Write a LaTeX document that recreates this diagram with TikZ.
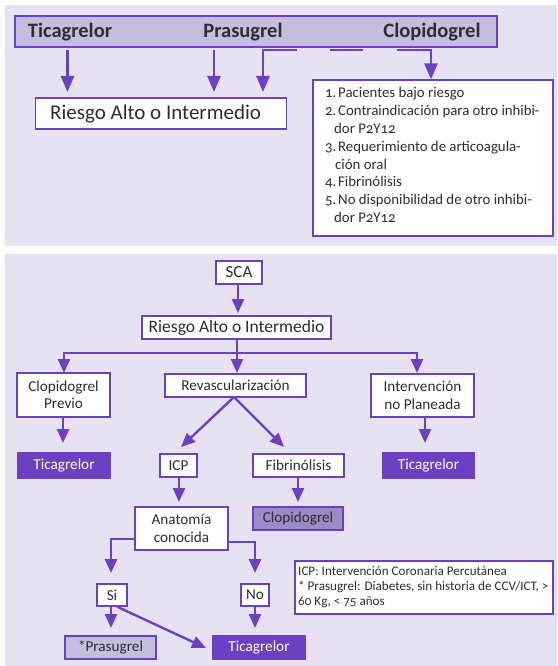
\documentclass[tikz,border=0pt]{standalone}
\usepackage{fontspec}
\setmainfont[Numbers=OldStyle]{Carlito}
\usetikzlibrary{arrows.meta,calc}
\definecolor{bgc}{HTML}{E6E2F1}
\definecolor{pc}{HTML}{6B40C2}
\definecolor{barc}{HTML}{C4BDDE}
\definecolor{midc}{HTML}{9A8BC8}
\definecolor{txt}{HTML}{2E2E2E}
\tikzset{
  box/.style={draw=pc, fill=white, line width=1.3pt, inner sep=0pt, text=txt, align=center, font=\fontsize{15.2}{17.5}\selectfont},
  darkbox/.style={box, fill=pc, text=white},
  midbox/.style={box, fill=midc},
  lightbox/.style={box, fill=barc},
  arr/.style={draw=pc, line width=2.4pt, -{Triangle[width=12pt,length=14pt]}},
  bigarr/.style={draw=pc, line width=2.6pt, -{Triangle[width=13pt,length=16pt]}},
  ln/.style={draw=pc, line width=2.4pt},
  bartext/.style={inner sep=0pt, text=txt, font=\fontsize{20.5}{24}\bfseries\selectfont},
}
\begin{document}
\begin{tikzpicture}[x=1pt,y=-1pt]
\useasboundingbox (0,0) rectangle (557,666);
% panels
\fill[bgc] (5,5) rectangle (557,246);
\fill[bgc] (5,254) rectangle (557,666);

% ---------- panel 1 ----------
\node[lightbox, minimum width=482pt, minimum height=31pt] (bar) at (256,31.5) {};
\node[bartext] (t1) at (70,32.5) {Ticagrelor};
\node[bartext] (t2) at (243,32.5) {Prasugrel};
\node[bartext] (t3) at (432,32.5) {Clopidogrel};

\node[box, minimum width=251pt, minimum height=31pt] (r1) at (161,113.5) {};
\node[inner sep=0pt, anchor=west, text=txt, font=\fontsize{21}{24}\selectfont] (r1t) at (50,114) {Riesgo Alto o Intermedio};

\node[box, minimum width=240pt, minimum height=156pt] (list) at (433,158) {};
\node[inner sep=0pt, anchor=north west, align=left, text=txt, font=\fontsize{14.8}{17.9}\selectfont] (listtxt) at (325,87)
{\makebox[13pt][l]{1.}Pacientes bajo riesgo\\
 \makebox[13pt][l]{2.}Contraindicación para otro inhibi-\\
 \hspace*{9pt}dor P2Y12\\
 \makebox[13pt][l]{3.}Requerimiento de articoagula-\\
 \hspace*{10pt}ción oral\\
 \makebox[13pt][l]{4.}Fibrinólisis\\
 \makebox[13pt][l]{5.}No disponibilidad de otro inhibi-\\
 \hspace*{9pt}dor P2Y12};

\coordinate (a1) at (67.5,50);
\coordinate (a2) at (214,50);
\coordinate (a3) at (263,50);
\draw[bigarr] (a1) -- (a1 |- 0,92);
\draw[bigarr] (a2) -- (a2 |- 0,92);
\draw[bigarr] (297,50) -- (a3) -- (a3 |- 0,92);
\draw[ln] (330,50) -- (363,50);
\draw[bigarr] (397,50) -- (431,50) -- (list.north -| 431,0);

% ---------- panel 2 ----------
\node[box, minimum width=46pt, minimum height=23pt, font=\fontsize{17}{20}\selectfont] (sca) at (239,272.5) {SCA};
\node[box, minimum width=189pt, minimum height=23pt, font=\fontsize{17.5}{20}\selectfont] (r2) at (236.5,327.5) {Riesgo Alto o Intermedio};
\draw[arr] (sca.south -| 238,0) -- (238,313);

\node[box, minimum width=93pt, minimum height=44pt] (cp) at (63.5,395) {Clopidogrel\\Previo};
\node[box, minimum width=141pt, minimum height=23pt] (rev) at (235.5,385.5) {Revascularización};
\node[box, minimum width=103pt, minimum height=43pt] (inp) at (422.5,395.5) {Intervención\\no Planeada};

\coordinate (j) at (237,353);
\draw[ln] (r2.south -| j) -- (j);
\draw[arr] (j) -- (64,353) -- (64,373);
\draw[arr] (j) -- (417,353) -- (417,373);
\draw[arr] (j) -- (237,373);

\node[darkbox, minimum width=92pt, minimum height=25pt] (tk1) at (64,465.5) {Ticagrelor};
\node[darkbox, minimum width=91pt, minimum height=25pt] (tk2) at (428.5,465.5) {Ticagrelor};
\draw[arr] (cp.south -| 63,0) -- (63,443);
\draw[arr] (inp.south -| 425,0) -- (425,443);

\node[box, minimum width=37pt, minimum height=23pt] (icp) at (178.5,465.5) {ICP};
\node[box, minimum width=91pt, minimum height=23pt] (fib) at (298.5,465.5) {Fibrinólisis};
\coordinate (rv) at (234,397);
\draw[arr] (rv) -- (181,447);
\draw[arr] (rv) -- (284,447);

\node[box, minimum width=93pt, minimum height=43pt] (anat) at (181.5,528.5) {Anatomía\\conocida};
\node[midbox, minimum width=90pt, minimum height=23pt] (clop) at (298,518.5) {Clopidogrel};
\draw[arr] (icp.south -| 179,0) -- (179,502);
\draw[arr] (fib.south -| 298,0) -- (298,502);

\node[box, minimum width=30pt, minimum height=22pt] (si) at (112,595) {Si};
\node[box, minimum width=28pt, minimum height=22pt] (no) at (255,595) {No};
\draw[arr] (anat.west |- 0,539) -- (111,539) -- (111,573);
\draw[arr] (anat.east |- 0,542) -- (255,542) -- (255,573);

\node[lightbox, minimum width=91pt, minimum height=23pt] (pras) at (110.5,647.5) {*Prasugrel};
\node[darkbox, minimum width=92pt, minimum height=23pt] (tk3) at (259,647.5) {Ticagrelor};
\draw[arr] (si.south -| 111,0) -- (111,628);
\draw[arr] (si.south -| 117,0) -- (206,648);
\draw[arr] (no.south) -- (255,628);

\node[box, minimum width=258pt, minimum height=53pt] (note) at (424,587.5) {};
\node[inner sep=0pt, anchor=north west, align=left, text=txt, font=\fontsize{13.1}{15}\selectfont] (notetxt) at (298,566)
{ICP: Intervención Coronaria Percutánea\\
* Prasugrel: Diabetes, sin historia de CCV/ICT, >\\
60 Kg, < 75 años};
\end{tikzpicture}
\end{document}
